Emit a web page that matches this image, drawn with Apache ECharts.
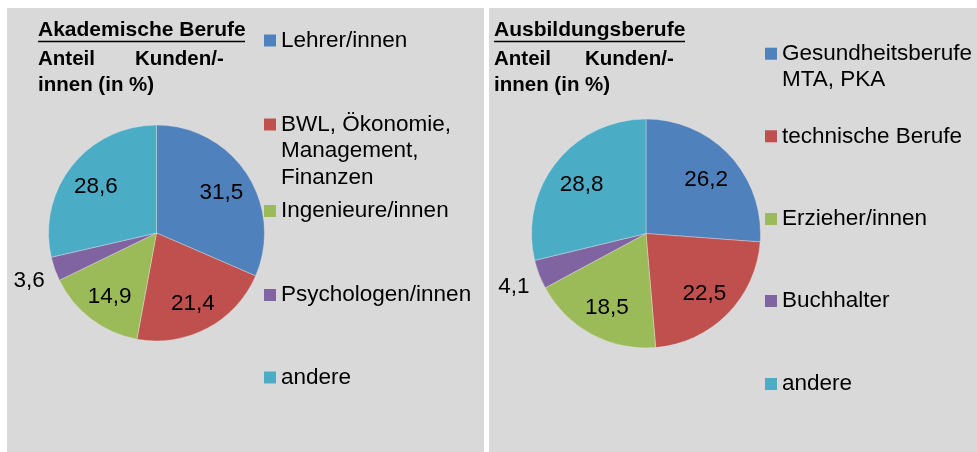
<!DOCTYPE html>
<html>
<head>
<meta charset="utf-8">
<script src="https://cdn.jsdelivr.net/npm/echarts@6/dist/echarts.min.js"></script>
<style>
  html, body { margin: 0; padding: 0; background: #ffffff; }
  #chart { width: 977px; height: 452px; }
</style>
</head>
<body>
<div id="chart"></div>
<script>
// Akademische Berufe
const akadTitle = 'Akademische Berufe';
const akadCategories = ['Lehrer/innen', 'BWL, Ökonomie, Management, Finanzen', 'Ingenieure/innen', 'Psychologen/innen', 'andere'];
const akadLegendText = ['Lehrer/innen', 'BWL, Ökonomie,\nManagement,\nFinanzen', 'Ingenieure/innen', 'Psychologen/innen', 'andere'];
const akadValues = [31.5, 21.4, 14.9, 3.6, 28.6];

// Ausbildungsberufe
const ausbTitle = 'Ausbildungsberufe';
const ausbCategories = ['Gesundheitsberufe MTA, PKA', 'technische Berufe', 'Erzieher/innen', 'Buchhalter', 'andere'];
const ausbLegendText = ['Gesundheitsberufe\nMTA, PKA', 'technische Berufe', 'Erzieher/innen', 'Buchhalter', 'andere'];
const ausbValues = [26.2, 22.5, 18.5, 4.1, 28.8];

const subtitleWords = ['Anteil', 'Kunden/-', 'innen (in %)'];
const sliceColors = ['#4f81bd', '#c0504d', '#9bbb59', '#8064a2', '#4bacc6'];

const FONT = "'Liberation Sans', Arial, sans-serif";
const LINE_H = 26.5;
const SMALL_SLICE = 5; // slices below this share get their label outside the pie
const LABEL_DROP = 2.5; // value labels sit slightly below the radial midpoint

function fmt(v) { return v.toFixed(1).replace('.', ','); }

// one pie panel: slices, inner value labels, outer labels for thin slices
function pieSeries(id, cats, vals, center, r) {
  const slices = cats.map((c, i) => ({ name: c, value: vals[i], itemStyle: { color: sliceColors[i] } }));
  const labelCenter = [center[0], center[1] + LABEL_DROP];
  const base = {
    type: 'pie', silent: true, startAngle: 90, clockwise: true,
    emphasis: { disabled: true }, labelLine: { show: false }
  };
  const labelStyle = { show: true, position: 'inside', color: '#000', fontSize: 22.5, fontFamily: FONT, formatter: p => fmt(p.value) };
  return [
    Object.assign({}, base, {
      id: id + '-slices', center: center, radius: [0, r], z: 2,
      itemStyle: { borderColor: 'rgba(235,235,235,0.6)', borderWidth: 0.6 },
      label: { show: false },
      data: slices
    }),
    Object.assign({}, base, {
      id: id + '-inner', center: labelCenter, radius: [r * 0.38, r], z: 3,
      label: labelStyle,
      data: slices.map(s => ({ name: s.name, value: s.value, itemStyle: { color: 'transparent' },
        label: { show: s.value >= SMALL_SLICE } }))
    }),
    Object.assign({}, base, {
      id: id + '-outer', center: labelCenter, radius: [r + 5, r + 43], z: 3,
      label: labelStyle,
      data: slices.map(s => ({ name: s.name, value: s.value, itemStyle: { color: 'transparent' },
        label: { show: s.value < SMALL_SLICE } }))
    })
  ];
}

// one legend block per entry so each entry sits at its own height;
// multi-line entries get leading blank lines so the marker lines up with the first line
function legends(cats, texts, left, markerCenters) {
  return cats.map((c, i) => {
    const n = texts[i].split('\n').length;
    const shown = '\n'.repeat(n - 1) + texts[i];
    return {
      data: [c], left: left, top: markerCenters[i] - (2 * n - 1) * LINE_H / 2,
      orient: 'vertical', padding: 0, itemGap: 0, itemWidth: 12, itemHeight: 12, icon: 'rect',
      selectedMode: false, itemStyle: { borderWidth: 0 },
      formatter: () => shown,
      textStyle: { fontSize: 22.5, fontFamily: FONT, color: '#000', lineHeight: LINE_H }
    };
  });
}

function headerGraphics(x, kundenX, title, underlineEnd) {
  const bold = { fontSize: 20.5, fontWeight: 'bold', fontFamily: FONT, fill: '#000', verticalAlign: 'middle' };
  return [
    { type: 'text', x: x, y: 30, style: Object.assign({ text: title }, bold, { fontSize: 21 }) },
    { type: 'line', shape: { x1: x, y1: 41.5, x2: underlineEnd, y2: 41.5 }, style: { stroke: '#000', lineWidth: 1.6 } },
    { type: 'text', x: x, y: 59.5, style: Object.assign({ text: subtitleWords[0] }, bold) },
    { type: 'text', x: kundenX, y: 59.5, style: Object.assign({ text: subtitleWords[1] }, bold) },
    { type: 'text', x: x, y: 85.5, style: Object.assign({ text: subtitleWords[2] }, bold) }
  ];
}

const chart = echarts.init(document.getElementById('chart'), null, { renderer: 'canvas' });

chart.setOption({
  animation: false,
  backgroundColor: '#ffffff',
  graphic: [
    { type: 'rect', shape: { x: 7, y: 8, width: 477, height: 444 }, style: { fill: '#d9d9d9' }, z: -10 },
    { type: 'rect', shape: { x: 489, y: 8, width: 488, height: 444 }, style: { fill: '#d9d9d9' }, z: -10 }
  ]
    .concat(headerGraphics(38, 135, akadTitle, 245))
    .concat(headerGraphics(494, 585, ausbTitle, 685)),
  legend: legends(akadCategories, akadLegendText, 264, [40.5, 124.5, 211, 295, 377.5])
    .concat(legends(ausbCategories, ausbLegendText, 765, [53.7, 136.3, 219, 301, 384])),
  series: pieSeries('akad', akadCategories, akadValues, [156.5, 233], 108)
    .concat(pieSeries('ausb', ausbCategories, ausbValues, [646, 233.5], 114.5))
});
</script>
</body>
</html>
